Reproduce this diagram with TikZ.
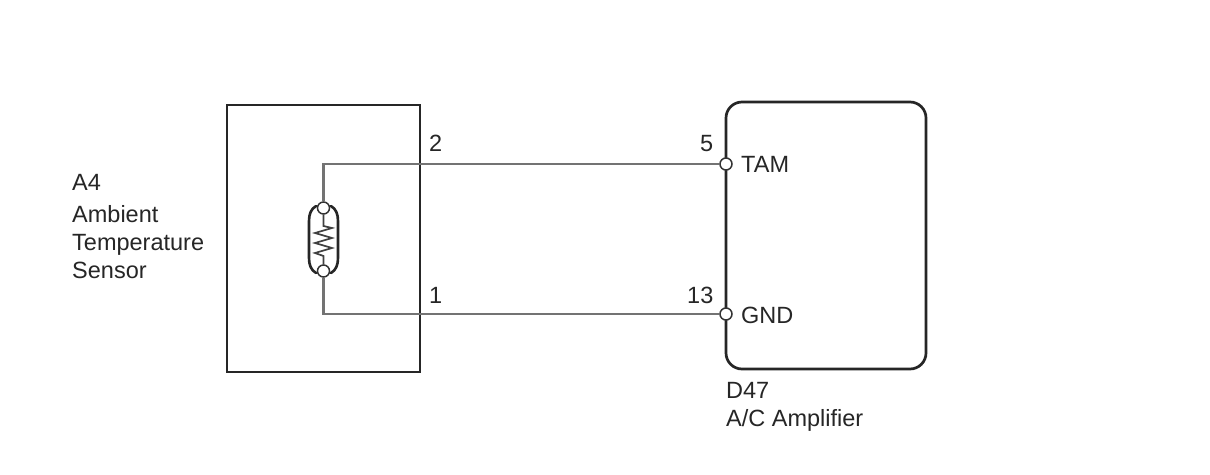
\documentclass[tikz,border=0pt]{standalone}
\usepackage{fontspec}
\setmainfont{Liberation Sans}
\begin{document}
\begin{tikzpicture}[x=1pt,y=-1pt,
  box/.style={draw=black!85,line width=2.7pt},
  wire/.style={draw=black!55,line width=2.2pt},
  pin/.style={circle,draw=black!80,fill=white,line width=1.5pt,inner sep=0pt,minimum size=12pt},
  lbl/.style={inner sep=0pt,font=\fontsize{23.5}{28}\selectfont,text=black!85,anchor=base west,align=left}]
\useasboundingbox (0,0) rectangle (1210,474);
\fill[white] (0,0) rectangle (1210,474);
\draw[box] (227,105) rectangle (420,372);
\draw[box,rounded corners=16pt] (726,102) rectangle (926,369);
\node[pin] (tam) at (726,164) {};
\node[pin] (gnd) at (726,314) {};
\node[pin] (rt) at (323.5,208) {};
\node[pin] (rb) at (323.5,271) {};
\coordinate (ct) at (323.5,164);
\coordinate (cb) at (323.5,314);
\draw[wire] (rt) -- (ct) -- (tam);
\draw[wire] (rb) -- (cb) -- (gnd);
\draw[black!85,line width=2.6pt,line cap=round] (316,206) .. controls (311,209) and (309,214) .. (309,221) -- (309,258) .. controls (309,265) and (311,270) .. (316,273);
\draw[black!85,line width=2.6pt,line cap=round] (331,206) .. controls (336,209) and (338,214) .. (338,221) -- (338,258) .. controls (338,265) and (336,270) .. (331,273);
\draw[black!75,line width=1.7pt] (rt) -- (323.5,226) -- (332,228) -- (315,233) -- (332,238) -- (315,243) -- (332,248) -- (315,253) -- (323.5,256) -- (rb);
\node[lbl] at (72,190) {A4};
\node[lbl] at (72,222) {Ambient};
\node[lbl] at (72,250) {Temperature};
\node[lbl] at (72,278) {Sensor};
\node[lbl] at (429,151) {2};
\node[lbl] at (429,303) {1};
\node[lbl] at (700,151) {5};
\node[lbl] at (687,303) {13};
\node[lbl] at (741,172) {TAM};
\node[lbl] at (741,323) {GND};
\node[lbl] at (726,398) {D47};
\node[lbl] at (726,426) {A/C Amplifier};
\end{tikzpicture}
\end{document}
